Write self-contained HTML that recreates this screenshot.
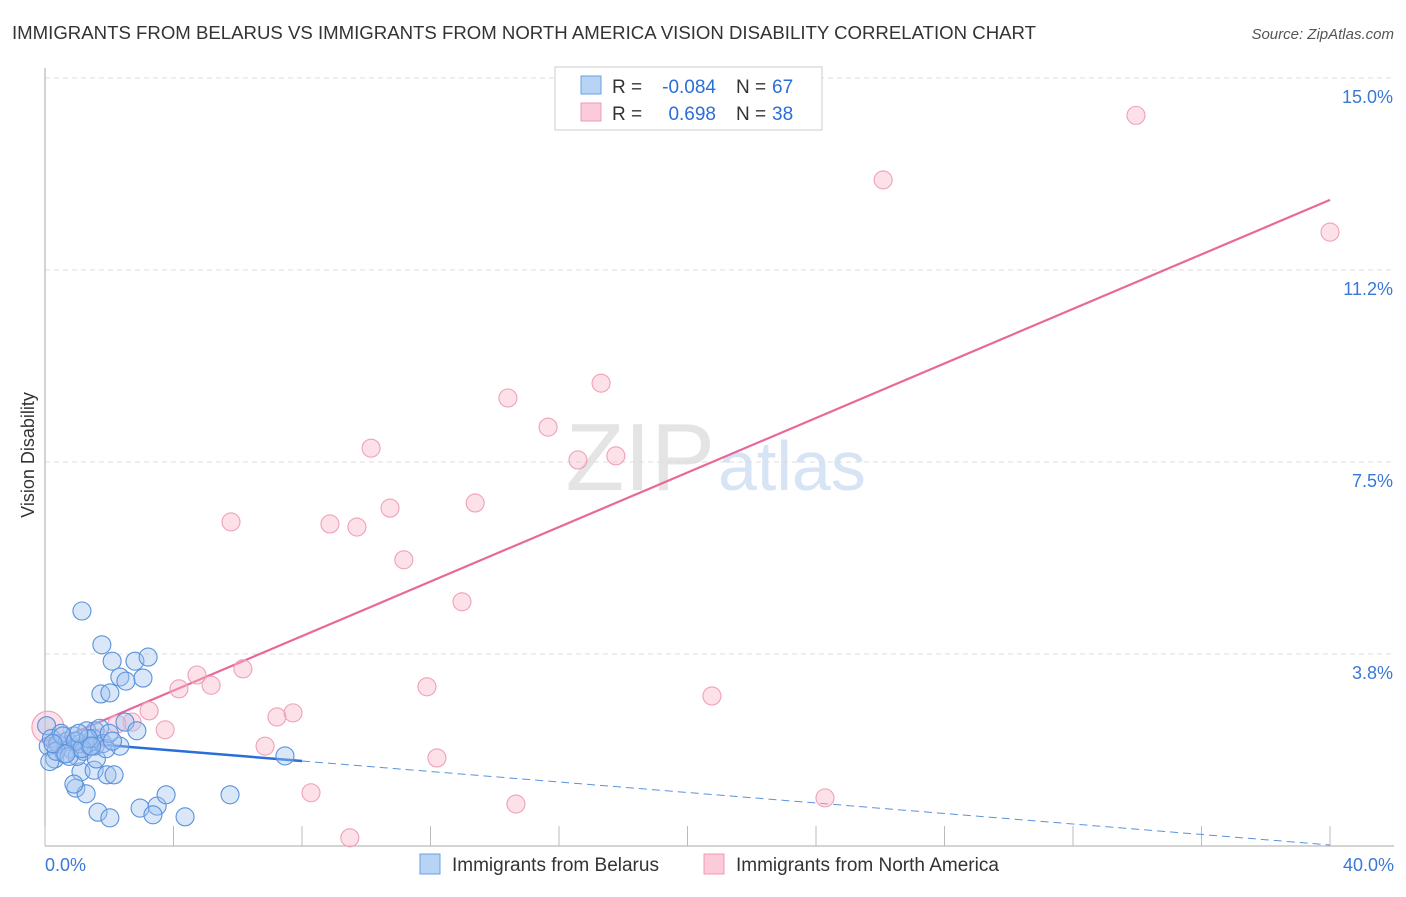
<!DOCTYPE html>
<html><head><meta charset="utf-8"><style>
body{margin:0;background:#fff;font-family:"Liberation Sans",sans-serif}
svg text{font-family:"Liberation Sans",sans-serif}
</style></head><body>
<svg id="c" width="1406" height="892" xmlns="http://www.w3.org/2000/svg">
<text x="12" y="39" font-size="18" fill="#333" textLength="1024" lengthAdjust="spacingAndGlyphs">IMMIGRANTS FROM BELARUS VS IMMIGRANTS FROM NORTH AMERICA VISION DISABILITY CORRELATION CHART</text>
<text x="1394" y="39" font-size="15" fill="#555" font-style="italic" text-anchor="end">Source: ZipAtlas.com</text>
<text x="715" y="490" font-size="96" fill="#e4e4e4" text-anchor="end" font-family="Liberation Serif">ZIP</text>
<text x="718" y="490" font-size="70" fill="#d6e4f5">atlas</text>
<text transform="translate(34,455) rotate(-90)" font-size="18" fill="#333" text-anchor="middle">Vision Disability</text>
<g id="grid"></g><g id="lines"></g><g id="pts"></g>
<g>
<rect x="555" y="67" width="267" height="63" fill="#fff" stroke="#ccc"/>
<rect x="581" y="76" width="20" height="18" fill="#b8d4f5" stroke="#6aa0e0"/>
<rect x="581" y="103" width="20" height="18" fill="#fbcbd9" stroke="#f09ab5"/>
<text x="612" y="93" font-size="19" fill="#333">R =</text>
<text x="716" y="93" font-size="19" fill="#2a6ed8" text-anchor="end">-0.084</text>
<text x="736" y="93" font-size="19" fill="#333">N =</text>
<text x="772" y="93" font-size="19" fill="#2a6ed8">67</text>
<text x="612" y="120" font-size="19" fill="#333">R =</text>
<text x="716" y="120" font-size="19" fill="#2a6ed8" text-anchor="end">0.698</text>
<text x="736" y="120" font-size="19" fill="#333">N =</text>
<text x="772" y="120" font-size="19" fill="#2a6ed8">38</text>
</g>
<g>
<rect x="420" y="854" width="20" height="20" fill="#b8d4f5" stroke="#6aa0e0"/>
<text x="452" y="871" font-size="19" fill="#333">Immigrants from Belarus</text>
<rect x="704" y="854" width="20" height="20" fill="#fbcbd9" stroke="#f09ab5"/>
<text x="736" y="871" font-size="19" fill="#333">Immigrants from North America</text>
</g>
</svg>
<script>
const yTicks=[3.75,7.5,11.25,15.0];
const yTickLabels=["3.8%","7.5%","11.2%","15.0%"];
const xTicks=[0,4,8,12,16,20,24,28,32,36,40];
const pinkX=[33.96,26.09,40.0,17.31,14.41,15.66,10.15,16.59,17.77,13.39,10.74,5.79,8.87,9.71,11.17,12.98,6.16,4.73,5.17,4.17,11.89,20.76,3.24,7.72,7.22,2.71,3.74,2.24,6.85,12.2,8.28,14.66,24.28,9.49,0.09,0.47,1.25,1.71];
const pinkY=[14.27,13.01,11.99,9.04,8.75,8.18,7.77,7.54,7.62,6.70,6.60,6.33,6.29,6.23,5.59,4.77,3.46,3.34,3.14,3.07,3.11,2.93,2.64,2.60,2.52,2.42,2.27,2.38,1.95,1.72,1.04,0.82,0.94,0.16,2.32,1.97,1.97,2.11];
const blueX=[1.15,1.77,2.09,2.8,3.21,2.33,2.52,3.05,1.74,2.02,2.49,2.86,1.56,7.47,2.33,1.09,1.56,1.12,1.53,1.93,2.15,0.96,1.28,0.9,1.65,2.02,2.96,3.49,3.77,3.36,4.36,5.76,
0.05,0.1,0.2,0.3,0.4,0.5,0.6,0.7,0.8,0.9,1.0,1.1,1.2,1.3,1.4,1.5,1.6,1.7,1.8,1.9,2.0,2.1,0.15,0.35,0.55,0.75,0.95,1.15,1.35,0.25,0.65,1.05,1.45];
const blueY=[4.59,3.93,3.61,3.61,3.69,3.30,3.22,3.28,2.97,2.99,2.42,2.25,2.25,1.76,1.95,1.91,1.95,1.45,1.48,1.39,1.39,1.13,1.02,1.21,0.66,0.55,0.74,0.78,1.0,0.61,0.57,1.0,
2.35,1.95,2.1,1.7,2.0,2.2,1.8,2.05,1.9,2.15,1.75,2.0,1.85,2.25,1.95,2.1,1.7,2.3,2.0,1.9,2.2,2.05,1.65,1.85,2.15,1.75,2.05,1.9,2.1,2.0,1.8,2.2,1.95];
const blueFit=[2.07,0.02];
const pinkFit=[1.97,12.62];
const NS="http://www.w3.org/2000/svg";
const X=v=>45+v/40*1285, Y=v=>846-v/3.75*192;
function mk(t,a,p){const e=document.createElementNS(NS,t);for(const k in a)e.setAttribute(k,a[k]);document.getElementById(p).appendChild(e);return e;}
yTicks.forEach((t,i)=>{
 const l=mk('line',{x1:45,x2:1394,y1:Y(t),y2:Y(t),stroke:'#ddd','stroke-dasharray':'5,4'},'grid');
 
 
 const tx=mk('text',{x:1393,y:Y(t)+25,'font-size':18,fill:'#3a78d8','text-anchor':'end'},'grid');tx.textContent=yTickLabels[i];
 
 
});
const ax=mk('line',{x1:45,x2:45,y1:68,y2:846,stroke:'#aaa'},'grid');


const bx=mk('line',{x1:45,x2:1394,y1:846,y2:846,stroke:'#aaa'},'grid');


xTicks.forEach(t=>{const l=mk('line',{x1:X(t),x2:X(t),y1:826,y2:846,stroke:'#bbb'},'grid');
 
 });
[["0.0%",45,'start'],["40.0%",1394,'end']].forEach(a=>{const t=mk('text',{x:a[1],y:871,'font-size':18,fill:'#3a78d8','text-anchor':a[2]},'grid');t.textContent=a[0];
 
 });
pinkX.forEach((v,i)=>{const c=mk('circle',{cx:X(v),cy:Y(pinkY[i]),r:i==34?16:9,fill:'rgba(248,180,200,0.4)',stroke:'#f0a0b8','stroke-width':1.1},'pts');
 
 });
blueX.forEach((v,i)=>{const c=mk('circle',{cx:X(v),cy:Y(blueY[i]),r:9,fill:'rgba(160,196,240,0.4)',stroke:'#5a92dc','stroke-width':1.1},'pts');
 
 });
const by=x=>blueFit[0]+(blueFit[1]-blueFit[0])*x/40;
const b1=mk('line',{x1:X(0),y1:Y(by(0)),x2:X(8),y2:Y(by(8)),stroke:'#2a6ed8','stroke-width':2.5},'lines');


const b2=mk('line',{x1:X(8),y1:Y(by(8)),x2:X(40),y2:Y(by(40)),stroke:'#5a92dc','stroke-width':1,'stroke-dasharray':'8,5'},'lines');


const p1=mk('line',{x1:X(0),y1:Y(pinkFit[0]),x2:X(40),y2:Y(pinkFit[1]),stroke:'#e8689a','stroke-width':2.2},'lines');


</script>
</body></html>
